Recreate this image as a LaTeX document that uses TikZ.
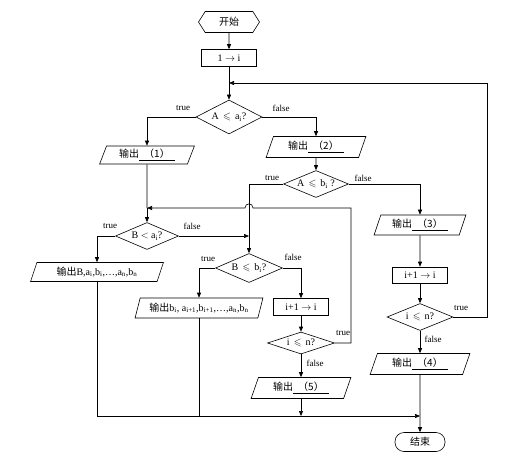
\documentclass[tikz,border=0pt]{standalone}
\usepackage{amssymb}
\usepackage{fontspec}
\setmainfont{Liberation Serif}
\newfontfamily\cjk{Noto Sans CJK SC}
\usetikzlibrary{shapes,shapes.geometric,arrows.meta,positioning,calc}

\begin{document}
\begin{tikzpicture}[
    x=1pt, y=-1pt,
    every node/.style={font=\fontsize{10}{11}\selectfont, inner sep=1pt},
    term/.style={signal, signal to=west and east, signal pointer angle=115, draw, minimum width=61pt, minimum height=21pt},
    stopbox/.style={rectangle, rounded corners=9pt, draw, minimum width=50pt, minimum height=19pt},
    proc/.style={rectangle, draw, minimum width=55pt, minimum height=17pt},
    io/.style={trapezium, trapezium left angle=70, trapezium right angle=110, trapezium stretches=true, draw, minimum height=20pt},
    decision/.style={diamond, draw, aspect=2.4, inner sep=0pt},
    lbl/.style={font=\fontsize{9}{10}\selectfont},
    arrow/.style={-{Triangle[length=5pt,width=4pt]}},
    line width=0.6pt
]
    \useasboundingbox (0,0) rectangle (527,460);

    \node[term] (start) at (229,22) {\cjk 开始};
    \node[proc] (init) at (229,58) {1 $\to$ i};
    \node[decision, minimum width=66pt, minimum height=34pt] (dA) at (229,117) {A \,$\leqslant$\, a\textsubscript{i}?};
    \node[io, minimum width=95pt, minimum height=18pt] (out1) at (147,155) {{\cjk 输出}\underline{\ \ {\cjk （1）}\ \ }};
    \node[io, minimum width=100pt, minimum height=21pt] (out2) at (316,147) {{\cjk 输出}\underline{\ \ {\cjk （2）}\ \ }};
    \node[decision, minimum width=65pt, minimum height=27pt] (dAb) at (316,184) {A \,$\leqslant$\, b\textsubscript{i} ?};
    \node[decision, minimum width=63pt, minimum height=27pt] (dBa) at (147,236) {B $<$ a\textsubscript{i}?};
    \node[decision, minimum width=67pt, minimum height=29pt] (dBb) at (249,268) {B \,$\leqslant$\, b\textsubscript{i}?};
    \node[io, minimum width=133pt, minimum height=19pt] (outB) at (97,272) {{\cjk 输出}B,a\textsubscript{i},b\textsubscript{i},\ldots,a\textsubscript{n},b\textsubscript{n}};
    \node[io, minimum width=128pt] (outb) at (199,308) {{\cjk 输出}b\textsubscript{i}, a\textsubscript{i+1},b\textsubscript{i+1},\ldots,a\textsubscript{n},b\textsubscript{n}};
    \node[proc] (incM) at (301,307) {i+1 $\to$ i};
    \node[decision, minimum width=67pt, minimum height=22pt] (dnM) at (301,343) {i \,$\leqslant$\, n?};
    \node[io, minimum width=100pt, minimum height=21pt] (out5) at (301,388) {{\cjk 输出}\underline{\ \ {\cjk （5）}\ \ }};
    \node[io, minimum width=92pt] (out3) at (420,225) {{\cjk 输出}\underline{\ \ {\cjk （3）}\ \ }};
    \node[proc, minimum height=16pt] (incR) at (420,275) {i+1 $\to$ i};
    \node[decision, minimum width=66pt, minimum height=27pt] (dnR) at (420,317) {i \,$\leqslant$\, n?};
    \node[io, minimum width=100pt, minimum height=21pt] (out4) at (420,364) {{\cjk 输出}\underline{\ \ {\cjk （4）}\ \ }};
    \node[stopbox] (stop) at (420,442) {\cjk 结束};

    % loop and join points
    \coordinate (jTop) at (229,83);
    \coordinate (rTop) at (487,83);
    \coordinate (jMid) at (147,208);
    \coordinate (rMid) at (351,208);
    \coordinate (jBot) at (420,416);

    \draw[arrow] (start) -- (init);
    \draw[arrow] (init) -- (dA);
    \draw[arrow] (dA.west) -| (out1.north);
    \draw[arrow] (dA.east) -| (out2.north);
    \draw[arrow] (out2) -- (dAb);
    \draw[arrow] (dAb.east) -| (out3.north);
    \draw[arrow] (out3) -- (incR);
    \draw[arrow] (incR) -- (dnR);
    \draw[arrow] (dnR) -- (out4);
    \draw[arrow] (out4) -- (stop);
    \draw[arrow] (dnR.east) -| (rTop) -- (jTop);

    \draw (out1.south) -- (jMid);
    \draw[arrow] (jMid) -- (dBa);
    \draw[arrow] (dAb.west) -| (dBb.north);
    \draw[arrow] (dBa.east) -- (dBa.east -| dBb.north);
    \draw[arrow] (dBa.west) -| (outB.north);
    \draw[arrow] (dBb.west) -| (outb.north);
    \draw[arrow] (dBb.east) -| (incM.north);
    \draw[arrow] (incM) -- (dnM);
    \draw[arrow] (dnM) -- (out5);
    % hop over the vertical line
    \draw[arrow] (dnM.east) -| (rMid) -- (253,208) .. controls (253,202.5) and (245,202.5) .. (245,208) -- (jMid);

    \draw[arrow] (outB.south) |- (jBot);
    \draw (outb.south) -- (outb.south |- jBot);
    \draw[arrow] (out5.south) -- (out5.south |- jBot);

    % branch labels
    \node[lbl] (t1) at (183,108) {true};
    \node[lbl] (f1) at (281,108) {false};
    \node[lbl] (t2) at (272,178) {true};
    \node[lbl] (f2) at (363,178) {false};
    \node[lbl] (t3) at (110,226) {true};
    \node[lbl] (f3) at (192,226) {false};
    \node[lbl] (t4) at (208,259) {true};
    \node[lbl] (f4) at (293,257) {false};
    \node[lbl] (t5) at (343,333) {true};
    \node[lbl] (f5) at (315,363) {false};
    \node[lbl] (t6) at (461,308) {true};
    \node[lbl] (f6) at (433,339) {false};
\end{tikzpicture}
\end{document}
